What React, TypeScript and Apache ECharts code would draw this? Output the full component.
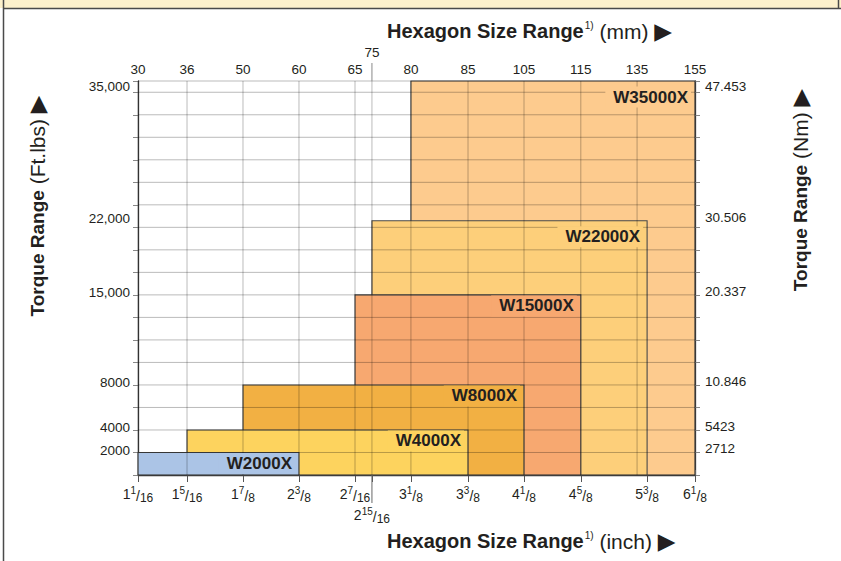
import React, { useEffect, useRef } from 'react';
import * as echarts from 'echarts';

// ---- Data ----
const models = ['W2000X', 'W4000X', 'W8000X', 'W15000X', 'W22000X', 'W35000X'];
const torqueFtLbs = [2000, 4000, 8000, 15000, 22000, 35000];
const torqueFtLbsLabels = ['2000', '4000', '8000', '15,000', '22,000', '35,000'];
const torqueNmLabels = ['2712', '5423', '10.846', '20.337', '30.506', '47.453'];
const hexFromInch = [1.0625, 1.3125, 1.875, 2.4375, 2.9375, 3.125];
const hexToInch = [2.375, 3.375, 4.125, 4.625, 5.375, 6.125];
const modelColors = ['#abc4e6', '#fdd35e', '#f2b043', '#f7a870', '#fdcf7a', '#fdcb8e'];

// ---- Axis scale definitions (non-linear chart axes) ----
const inchTickValues = [1.0625, 1.3125, 1.875, 2.375, 2.4375, 2.9375, 3.125, 3.375, 4.125, 4.625, 5.375, 6.125];
const inchTickLabels = ['1 1/16', '1 5/16', '1 7/8', '2 3/8', '2 7/16', '2 15/16', '3 1/8', '3 3/8', '4 1/8', '4 5/8', '5 3/8', '6 1/8'];
const inchTickSlots = [0, 0.88, 1.885, 2.89, 3.896, 4.2, 4.9, 5.925, 6.93, 7.95, 9.14, 10];
const mmTickLabels = ['30', '36', '50', '60', '65', '75', '80', '85', '105', '115', '135', '155'];
const mmTickSlots = [0, 0.88, 1.885, 2.89, 3.896, 4.2, 4.9, 5.925, 6.93, 7.95, 8.96, 10];
const torqueScaleFtLbs = [0, 2000, 4000, 8000, 15000, 22000, 35000];
const torqueScaleRows = [0, 1, 2, 4, 8, 11.29, 17.5];
const SLOT_MAX = 10;
const ROW_MAX = 17.5;

const FONT = '"Liberation Sans", Arial, Helvetica, sans-serif';
const INK = '#231f20';

const slotOfInch = (v: number) => inchTickSlots[inchTickValues.indexOf(v)];
const rowOfTorque = (v: number) => torqueScaleRows[torqueScaleFtLbs.indexOf(v)];
const findIdx = (arr: number[], v: number) => arr.findIndex((s) => Math.abs(s - v) < 1e-6);
const isCrowded = (arr: number[], i: number) => i > 0 && arr[i] - arr[i - 1] < 0.5;

const torqueRows = torqueFtLbs.map(rowOfTorque);

const titleRich = {
  b: { fontFamily: FONT, fontSize: 20, fontWeight: 'bold', fill: INK },
  s: { fontFamily: FONT, fontSize: 10, fill: INK, padding: [0, 0, 12, 1] },
  r: { fontFamily: FONT, fontSize: 21, fill: INK },
  t: { fontFamily: '"DejaVu Sans", sans-serif', fontSize: 23, fill: INK },
};
const vTitleRich = {
  b: { fontFamily: FONT, fontSize: 19, fontWeight: 'bold', fill: INK },
  r: { fontFamily: FONT, fontSize: 21, fill: INK },
  t: { fontFamily: '"DejaVu Sans", sans-serif', fontSize: 23, fill: INK },
};

export default function App() {
  const ref = useRef<HTMLDivElement>(null);
  useEffect(() => {
    document.body.style.margin = '0';
    if (!ref.current) return;
    const chart = echarts.init(ref.current, undefined, { renderer: 'svg' });

    const rectData = models
      .map((m, i) => [slotOfInch(hexFromInch[i]), slotOfInch(hexToInch[i]), rowOfTorque(torqueFtLbs[i]), i])
      .reverse();

    const base = { fontFamily: FONT, color: INK };
    const inchRich: any = {
      n: { ...base, fontSize: 14 },
      p: { ...base, fontSize: 10, padding: [0, 0, 7, 0] },
      sl: { ...base, fontSize: 14, padding: [3, 0, 0, 0] },
      d: { ...base, fontSize: 12, padding: [8, 0, 0, 0] },
      n2: { ...base, fontSize: 14, padding: [42, 0, 0, 0] },
      p2: { ...base, fontSize: 10, padding: [42, 0, 7, 0] },
      sl2: { ...base, fontSize: 14, padding: [45, 0, 0, 0] },
      d2: { ...base, fontSize: 12, padding: [50, 0, 0, 0] },
    };

    const option: any = {
      animation: false,
      grid: { left: 138, right: 146, top: 81, bottom: 86, containLabel: false, outerBoundsMode: 'none' },
      xAxis: [
        {
          type: 'value', position: 'bottom', min: 0, max: SLOT_MAX,
          axisLine: { show: true, onZero: false, lineStyle: { color: '#3a3a3a', width: 1.3 } },
          axisTick: { show: true, customValues: inchTickSlots, length: 7, lineStyle: { color: '#555', width: 1 } },
          axisLabel: {
            customValues: inchTickSlots, margin: 19, verticalAlign: 'middle', rich: inchRich,
            formatter: (v: number) => {
              const i = findIdx(inchTickSlots, v);
              if (i < 0) return '';
              const [whole, frac] = inchTickLabels[i].split(' ');
              const [num, den] = frac.split('/');
              const s = isCrowded(inchTickSlots, i) ? '2' : '';
              return `{n${s}|${whole}}{p${s}|${num}}{sl${s}|/}{d${s}|${den}}`;
            },
          },
          splitLine: { show: false },
        },
        {
          type: 'value', position: 'top', min: 0, max: SLOT_MAX,
          axisLine: { show: false },
          axisTick: { show: true, customValues: mmTickSlots, length: 5, lineStyle: { color: '#999', width: 1 } },
          axisLabel: {
            customValues: mmTickSlots, margin: 12, verticalAlign: 'middle',
            rich: {
              m: { ...base, fontSize: 13.5 },
              m2: { ...base, fontSize: 13.5, padding: [0, 0, 34, 0] },
            },
            formatter: (v: number) => {
              const i = findIdx(mmTickSlots, v);
              if (i < 0) return '';
              return `{${isCrowded(mmTickSlots, i) ? 'm2' : 'm'}|${mmTickLabels[i]}}`;
            },
          },
          splitLine: { show: false },
        },
      ],
      yAxis: [
        {
          type: 'value', position: 'left', min: 0, max: ROW_MAX, interval: 1,
          axisLine: { show: true, onZero: false, lineStyle: { color: '#3a3a3a', width: 1.3 } },
          axisTick: { show: true, length: 5, lineStyle: { color: '#888', width: 1 } },
          axisLabel: {
            customValues: torqueRows, margin: 8,
            rich: {
              l: { ...base, fontSize: 13.5, padding: [0, 0, 4, 0] },
              lt: { ...base, fontSize: 13.5, padding: [10, 0, 0, 0] },
            },
            formatter: (v: number) => {
              const i = findIdx(torqueRows, v);
              if (i < 0) return '';
              return `{${i === torqueRows.length - 1 ? 'lt' : 'l'}|${torqueFtLbsLabels[i]}}`;
            },
          },
          splitLine: { show: false },
        },
        {
          type: 'value', position: 'right', min: 0, max: ROW_MAX, interval: 1,
          axisLine: { show: true, onZero: false, lineStyle: { color: '#3a3a3a', width: 1.3 } },
          axisTick: { show: true, length: 5, lineStyle: { color: '#888', width: 1 } },
          axisLabel: {
            customValues: torqueRows, margin: 10,
            rich: {
              r: { ...base, fontSize: 13.5, padding: [0, 0, 7, 0] },
              rt: { ...base, fontSize: 13.5, padding: [10, 0, 0, 0] },
            },
            formatter: (v: number) => {
              const i = findIdx(torqueRows, v);
              if (i < 0) return '';
              return `{${i === torqueRows.length - 1 ? 'rt' : 'r'}|${torqueNmLabels[i]}}`;
            },
          },
          splitLine: { show: false },
        },
      ],
      series: [
        {
          type: 'custom', name: 'ranges', z: 2, clip: false,
          data: rectData,
          encode: { x: [0, 1], y: 2 },
          renderItem: (params: any, api: any) => {
            const x0 = api.value(0), x1 = api.value(1), top = api.value(2), idx = api.value(3);
            const p0 = api.coord([x0, 0]);
            const p1 = api.coord([x1, top]);
            return {
              type: 'rect',
              shape: { x: p0[0], y: p1[1], width: p1[0] - p0[0], height: p0[1] - p1[1] },
              style: { fill: modelColors[idx], stroke: '#4a4a4a', lineWidth: 1.1 },
            };
          },
        },
        {
          type: 'custom', name: 'gridlines', z: 3, clip: false, silent: true,
          data: [[0, 0]],
          encode: { x: 0, y: 1 },
          renderItem: (params: any, api: any) => {
            const children: any[] = [];
            const gridStroke = { stroke: 'rgba(0,0,0,0.27)', lineWidth: 1 };
            mmTickSlots.forEach((s) => {
              const a = api.coord([s, 0]);
              const b = api.coord([s, ROW_MAX]);
              children.push({ type: 'line', shape: { x1: a[0], y1: a[1], x2: b[0], y2: b[1] }, style: gridStroke });
            });
            const rows: number[] = [];
            for (let r = 0; r <= Math.floor(ROW_MAX); r++) rows.push(r);
            rows.push(ROW_MAX);
            rows.forEach((r) => {
              const a = api.coord([0, r]);
              const b = api.coord([SLOT_MAX, r]);
              children.push({ type: 'line', shape: { x1: a[0], y1: a[1], x2: b[0], y2: b[1] }, style: gridStroke });
            });
            inchTickSlots.forEach((s, i) => {
              if (!isCrowded(inchTickSlots, i)) return;
              const a = api.coord([s, 0]);
              children.push({ type: 'line', shape: { x1: a[0], y1: a[1], x2: a[0], y2: a[1] + 28 }, style: { stroke: '#666', lineWidth: 1 } });
            });
            mmTickSlots.forEach((s, i) => {
              if (!isCrowded(mmTickSlots, i)) return;
              const a = api.coord([s, ROW_MAX]);
              children.push({ type: 'line', shape: { x1: a[0], y1: a[1], x2: a[0], y2: a[1] - 18 }, style: { stroke: '#888', lineWidth: 1 } });
            });
            return { type: 'group', children };
          },
        },
        {
          type: 'custom', name: 'labels', z: 4, clip: false, silent: true,
          data: rectData,
          encode: { x: [0, 1], y: 2 },
          renderItem: (params: any, api: any) => {
            const x1 = api.value(1), top = api.value(2), idx = api.value(3);
            const p = api.coord([x1, top]);
            const off = Number.isInteger(top) ? 11 : 16;
            return {
              type: 'text',
              x: p[0] - 4,
              y: p[1] + off,
              style: {
                text: models[idx],
                fill: INK,
                font: `bold 17px ${FONT}`,
                align: 'right',
                verticalAlign: 'middle',
                backgroundColor: modelColors[idx],
                padding: [2, 3, 2, 8],
              },
            };
          },
        },
      ],
      graphic: [
        { type: 'rect', shape: { x: 0, y: 0, width: 841, height: 8 }, style: { fill: '#fdf1cc' } },
        { type: 'line', shape: { x1: 3, y1: 8.5, x2: 841, y2: 8.5 }, style: { stroke: '#4a4a4a', lineWidth: 1.5 } },
        { type: 'line', shape: { x1: 3.5, y1: 0, x2: 3.5, y2: 561 }, style: { stroke: '#4a4a4a', lineWidth: 1.5 } },
        { type: 'line', shape: { x1: 838.5, y1: 0, x2: 838.5, y2: 8 }, style: { stroke: '#4a4a4a', lineWidth: 1.5 } },
        {
          type: 'text', x: 387, y: 31,
          style: {
            text: '{b|Hexagon Size Range}{s|1)}{r| (mm) }{t|▶}',
            verticalAlign: 'middle', align: 'left', rich: titleRich,
          },
        },
        {
          type: 'text', x: 387, y: 541,
          style: {
            text: '{b|Hexagon Size Range}{s|1)}{r| (inch) }{t|▶}',
            verticalAlign: 'middle', align: 'left', rich: titleRich,
          },
        },
        {
          type: 'text', x: 37, y: 206, rotation: Math.PI / 2,
          style: {
            text: '{b|Torque Range}{r| (Ft.lbs) }{t|▶}',
            verticalAlign: 'middle', align: 'center', rich: vTitleRich,
          },
        },
        {
          type: 'text', x: 800, y: 190, rotation: Math.PI / 2,
          style: {
            text: '{b|Torque Range}{r| (Nm) }{t|▶}',
            verticalAlign: 'middle', align: 'center', rich: vTitleRich,
          },
        },
      ],
    };
    chart.setOption(option);
    return () => chart.dispose();
  }, []);
  return <div ref={ref} style={{ width: 841, height: 561 }} />;
}
